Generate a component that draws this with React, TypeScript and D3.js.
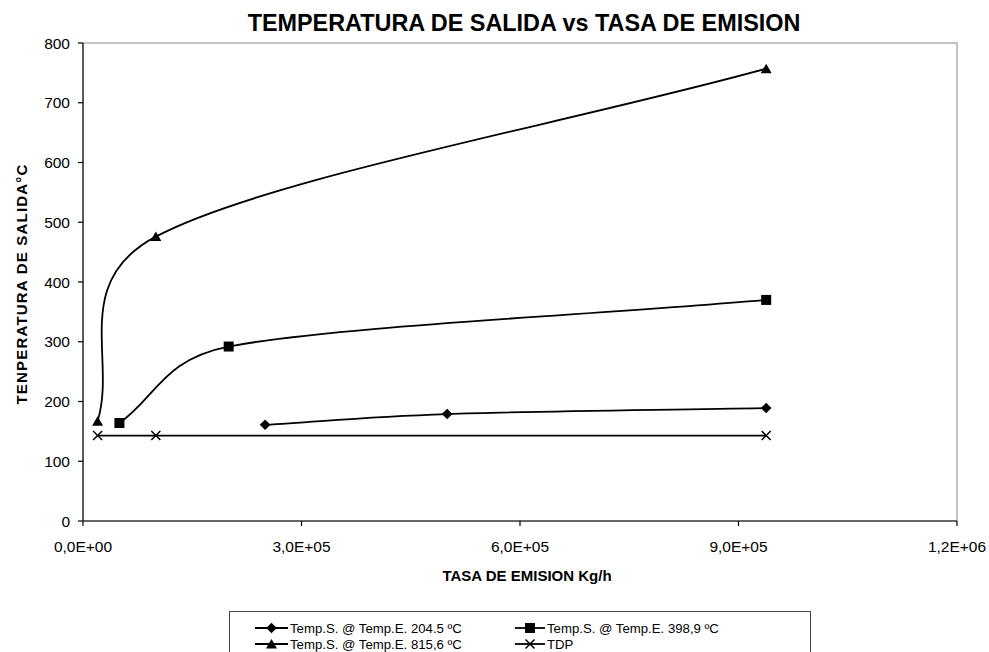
import React from "react";
import * as d3 from "d3";

// ---- data ----
const emissionRate204 = [250000, 500000, 938000];
const tempOut204 = [161, 179, 189];
const emissionRate398 = [50000, 200000, 938000];
const tempOut398 = [164, 292, 370];
const emissionRate815 = [20000, 100000, 938000];
const tempOut815 = [167, 476, 757];
const emissionRateTDP = [20000, 100000, 938000];
const tempTDP = [143, 143, 143];
const seriesNames = [
  "Temp.S. @ Temp.E. 204.5 ºC",
  "Temp.S. @ Temp.E. 398,9 ºC",
  "Temp.S. @ Temp.E. 815,6 ºC",
  "TDP",
];
const xTicks = [0, 300000, 600000, 900000, 1200000];
const yTicks = [0, 100, 200, 300, 400, 500, 600, 700, 800];
const chartTitle = "TEMPERATURA DE SALIDA vs TASA DE EMISION";
const xTitle = "TASA DE EMISION Kg/h";
const yTitle = "TENPERATURA DE SALIDA°C";

const W = 989;
const H = 652;
const FONT = "'Liberation Sans', Arial, Helvetica, sans-serif";

const x = d3.scaleLinear().domain([0, 1200000]).range([83, 957]);
const y = d3.scaleLinear().domain([0, 800]).range([521, 43]);

function fmtSci(v: number): string {
  if (v === 0) return "0,0E+00";
  const e = Math.floor(Math.log10(Math.abs(v)));
  const m = v / Math.pow(10, e);
  const mant = m.toFixed(1).replace(".", ",");
  const exp = (e < 10 ? "0" : "") + e;
  return `${mant}E+${exp}`;
}

type P = [number, number];

// Excel-style smoothed line (Bezier with capped 1/6 tangents)
function excelSmooth(pts: P[]): string {
  const p = d3.path();
  if (!pts.length) return "";
  p.moveTo(pts[0][0], pts[0][1]);
  const dist = (a: P, b: P) => Math.hypot(b[0] - a[0], b[1] - a[1]);
  for (let i = 0; i < pts.length - 1; i++) {
    const p1 = pts[i];
    const p2 = pts[i + 1];
    const p0 = i > 0 ? pts[i - 1] : p1;
    const p3 = i + 2 < pts.length ? pts[i + 2] : p2;
    let f = i > 0 ? 1 / 6 : 1 / 3;
    let g = i + 2 < pts.length ? 1 / 6 : 1 / 3;
    const d12 = dist(p1, p2);
    const d02 = dist(p0, p2);
    const d13 = dist(p1, p3);
    if (d02 * f > d12 / 2) f = d12 / 2 / d02;
    if (d13 * g > d12 / 2) g = d12 / 2 / d13;
    const c1: P = [p1[0] + f * (p2[0] - p0[0]), p1[1] + f * (p2[1] - p0[1])];
    const c2: P = [p2[0] - g * (p3[0] - p1[0]), p2[1] - g * (p3[1] - p1[1])];
    p.bezierCurveTo(c1[0], c1[1], c2[0], c2[1], p2[0], p2[1]);
  }
  return p.toString();
}

type MarkerKind = "diamond" | "square" | "triangle" | "x";

function Marker({ kind, cx, cy }: { kind: MarkerKind; cx: number; cy: number }) {
  if (kind === "diamond") {
    const r = 5.3;
    return (
      <path
        d={`M${cx},${cy - r}L${cx + r},${cy}L${cx},${cy + r}L${cx - r},${cy}Z`}
        fill="#000"
      />
    );
  }
  if (kind === "square") {
    return <rect x={cx - 5} y={cy - 5} width={10} height={10} fill="#000" />;
  }
  if (kind === "triangle") {
    return (
      <path
        d={`M${cx},${cy - 5}L${cx + 5.5},${cy + 4.5}L${cx - 5.5},${cy + 4.5}Z`}
        fill="#000"
      />
    );
  }
  const r = 4.5;
  return (
    <path
      d={`M${cx - r},${cy - r}L${cx + r},${cy + r}M${cx - r},${cy + r}L${cx + r},${cy - r}`}
      stroke="#000"
      strokeWidth={1.5}
      fill="none"
    />
  );
}

const series: { xs: number[]; ys: number[]; marker: MarkerKind; name: string }[] = [
  { xs: emissionRate204, ys: tempOut204, marker: "diamond", name: seriesNames[0] },
  { xs: emissionRate398, ys: tempOut398, marker: "square", name: seriesNames[1] },
  { xs: emissionRate815, ys: tempOut815, marker: "triangle", name: seriesNames[2] },
  { xs: emissionRateTDP, ys: tempTDP, marker: "x", name: seriesNames[3] },
];

export default function App() {
  const [x0, x1] = x.range();
  const [y0, y1] = y.range();
  const legendPos = [
    { lx: 255, ty: 628 },
    { lx: 515, ty: 628 },
    { lx: 255, ty: 644 },
    { lx: 515, ty: 644 },
  ];
  return (
    <svg
      width={W}
      height={H}
      style={{ position: "absolute", left: 0, top: 0, background: "#fff" }}
      fontFamily={FONT}
    >
      <rect x={0} y={0} width={W} height={H} fill="#fff" />
      {/* plot border */}
      <path d={`M${x0},${y1}H${x1}V${y0}`} fill="none" stroke="#b0b0b0" strokeWidth={1.5} />
      {/* series */}
      {series.map((s, i) => {
        const pts: P[] = s.xs.map((v, j) => [x(v), y(s.ys[j])]);
        return (
          <g key={i}>
            <path d={excelSmooth(pts)} fill="none" stroke="#000" strokeWidth={1.8} />
            {pts.map((pt, j) => (
              <Marker key={j} kind={s.marker} cx={pt[0]} cy={pt[1]} />
            ))}
          </g>
        );
      })}
      {/* axes */}
      <line x1={x0} x2={x0} y1={y1} y2={y0} stroke="#000" strokeWidth={1.3} />
      <line x1={x0} x2={x1} y1={y0} y2={y0} stroke="#333" strokeWidth={1.6} />
      {yTicks.map((t) => (
        <g key={t}>
          <line x1={x0 - 5} x2={x0} y1={y(t)} y2={y(t)} stroke="#000" strokeWidth={1.2} />
          <text x={70} y={y(t) + 5.5} fontSize={15.5} textAnchor="end" fill="#000">
            {t}
          </text>
        </g>
      ))}
      {xTicks.map((t) => (
        <g key={t}>
          <line x1={x(t)} x2={x(t)} y1={y0} y2={y0 + 5} stroke="#000" strokeWidth={1.2} />
          <text x={x(t)} y={552} fontSize={15.5} textAnchor="middle" fill="#000">
            {fmtSci(t)}
          </text>
        </g>
      ))}
      {/* titles */}
      <text x={524} y={31} fontSize={23.4} fontWeight="bold" textAnchor="middle" fill="#000">
        {chartTitle}
      </text>
      <text x={527} y={581} fontSize={15} fontWeight="bold" textAnchor="middle" fill="#000">
        {xTitle}
      </text>
      <text
        transform={`translate(27,284) rotate(-90)`}
        fontSize={15}
        fontWeight="bold"
        textAnchor="middle"
        letterSpacing={1.2}
        fill="#000"
      >
        {yTitle}
      </text>
      {/* legend */}
      <rect x={229.5} y={611.5} width={581} height={50} fill="#fff" stroke="#444" strokeWidth={1} />
      {series.map((s, i) => {
        const { lx, ty } = legendPos[i];
        const len = i % 2 === 0 ? 33 : 30;
        return (
          <g key={i}>
            <line x1={lx} x2={lx + len} y1={ty} y2={ty} stroke="#000" strokeWidth={1.8} />
            <Marker kind={s.marker} cx={lx + len / 2} cy={ty} />
            <text x={lx + len + 2} y={ty + 4.7} fontSize={13.2} fill="#000">
              {s.name}
            </text>
          </g>
        );
      })}
    </svg>
  );
}
